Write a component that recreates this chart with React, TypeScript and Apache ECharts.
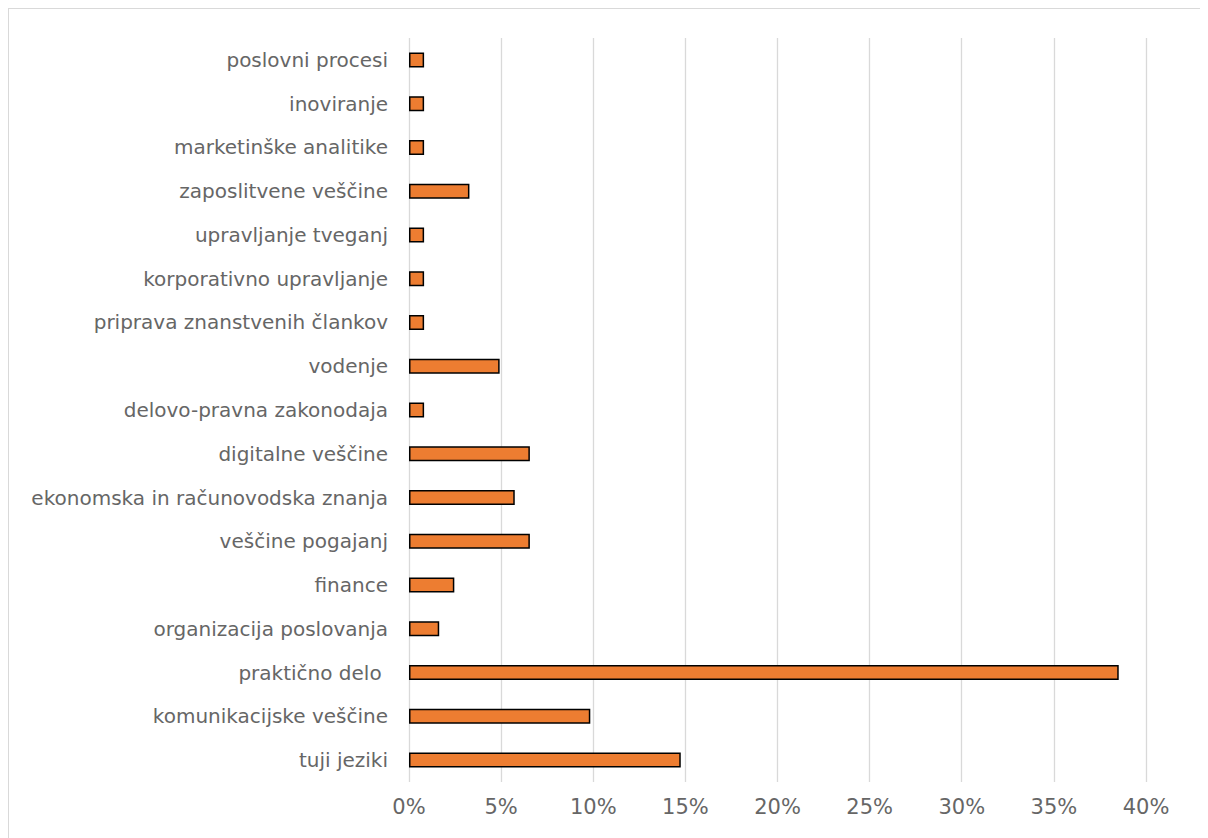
import React, { useEffect, useRef } from "react";
import * as echarts from "echarts";

const categories = [
  "tuji jeziki",
  "komunikacijske veščine",
  "praktično delo ",
  "organizacija poslovanja",
  "finance",
  "veščine pogajanj",
  "ekonomska in računovodska znanja",
  "digitalne veščine",
  "delovo-pravna zakonodaja",
  "vodenje",
  "priprava znanstvenih člankov",
  "korporativno upravljanje",
  "upravljanje tveganj",
  "zaposlitvene veščine",
  "marketinške analitike",
  "inoviranje",
  "poslovni procesi",
];

const values = [
  0.1475, 0.0984, 0.3852, 0.0164, 0.0246, 0.0656, 0.0574, 0.0656, 0.0082, 0.0492,
  0.0082, 0.0082, 0.0082, 0.0328, 0.0082, 0.0082, 0.0082,
];

const xTicks = [0, 0.05, 0.1, 0.15, 0.2, 0.25, 0.3, 0.35, 0.4];

export default function App() {
  const ref = useRef<HTMLDivElement>(null);
  useEffect(() => {
    document.documentElement.style.overflow = "hidden";
    document.body.style.overflow = "hidden";
    if (!ref.current) return;
    const chart = echarts.init(ref.current, undefined, { renderer: "svg" });
    const font = "'DejaVu Sans', sans-serif";
    chart.setOption({
      animation: false,
      grid: { left: 400, right: 83, top: 29, bottom: 67, containLabel: false },
      xAxis: {
        type: "value",
        min: xTicks[0],
        max: xTicks[xTicks.length - 1],
        interval: 0.05,
        axisLine: { show: false },
        axisTick: { show: false },
        splitLine: { show: true, lineStyle: { color: "#d9d9d9", width: 1.3 } },
        axisLabel: {
          formatter: (v: number) => Math.round(v * 100) + "%",
          color: "#666666",
          fontSize: 21,
          fontFamily: font,
          margin: 14,
        },
      },
      yAxis: {
        type: "category",
        data: categories,
        axisLine: { show: false },
        axisTick: { show: false },
        axisLabel: {
          color: "#666666",
          fontSize: 20,
          fontFamily: font,
          margin: 21,
        },
      },
      series: [
        {
          type: "bar",
          data: values,
          barWidth: 15,
          itemStyle: { color: "#ED7D31", borderColor: "#000000", borderWidth: 1.5 },
        },
      ],
    });
    return () => chart.dispose();
  }, []);
  return (
    <div
      style={{
        border: "1px solid #d9d9d9",
        width: 1220,
        height: 840,
      }}
    >
      <div ref={ref} style={{ width: 1220, height: 840 }} />
    </div>
  );
}
